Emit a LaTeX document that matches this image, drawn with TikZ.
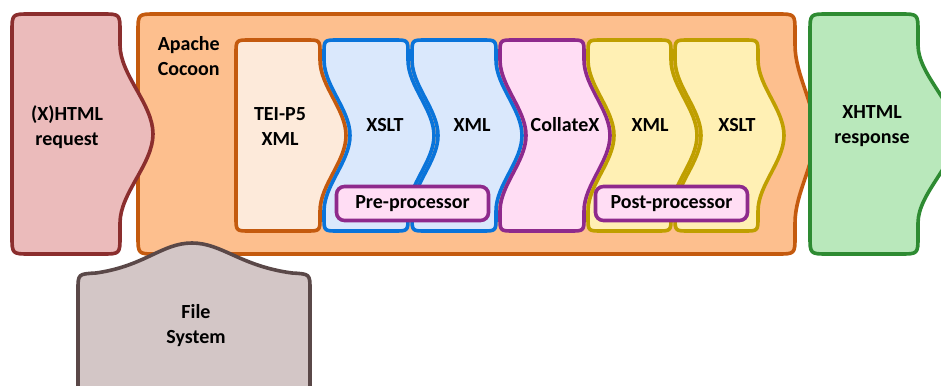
\documentclass[tikz,border=0pt]{standalone}
\usepackage{fontspec}
\setmainfont{Carlito}
\definecolor{reqF}{HTML}{EBBBBB}
\definecolor{reqD}{HTML}{8B2E2E}
\definecolor{cocF}{HTML}{FDBF8E}
\definecolor{cocD}{HTML}{C45A0E}
\definecolor{teiF}{HTML}{FDEADA}
\definecolor{bluF}{HTML}{DAE8FC}
\definecolor{bluD}{HTML}{0A74DA}
\definecolor{pnkF}{HTML}{FFDDF4}
\definecolor{pnkD}{HTML}{8E2A8C}
\definecolor{ylwF}{HTML}{FFF0B4}
\definecolor{ylwD}{HTML}{BF9F00}
\definecolor{grnF}{HTML}{B9E8BB}
\definecolor{grnD}{HTML}{2E8B32}
\definecolor{fsF}{HTML}{D3C6C6}
\definecolor{fsD}{HTML}{5A4848}
\newcommand\wshape[5]{%
\pgfmathsetmacro\ymid{(#4+#5)/2}%
\path[#1] ({#2+\shpR},#4) -- ({#3-\shpR},#4) .. controls (#3,#4) .. (#3,{#4+\shpR})
 -- (#3,{#4+\shpA}) .. controls (#3,{#4+\shpA+\shpC}) and ({#3+\shpB},{\ymid-\shpC}) .. ({#3+\shpB},\ymid)
 .. controls ({#3+\shpB},{\ymid+\shpC}) and (#3,{#5-\shpA-\shpC}) .. (#3,{#5-\shpA})
 -- (#3,{#5-\shpR}) .. controls (#3,#5) .. ({#3-\shpR},#5)
 -- ({#2+\shpR},#5) .. controls (#2,#5) .. (#2,{#5-\shpR})
 -- (#2,{#5-\shpA}) .. controls (#2,{#5-\shpA-\shpC}) and ({#2+\shpN},{\ymid+\shpC}) .. ({#2+\shpN},\ymid)
 .. controls ({#2+\shpN},{\ymid-\shpC}) and (#2,{#4+\shpA+\shpC}) .. (#2,{#4+\shpA})
 -- (#2,{#4+\shpR}) .. controls (#2,#4) .. ({#2+\shpR},#4) -- cycle;}
\begin{document}
\begin{tikzpicture}[x=1pt,y=-1pt,line width=3.6pt,line join=round,
  lbl/.style={font=\bfseries\fontsize{20}{25}\selectfont,align=center,inner sep=0pt,text=black},
  pbox/.style={lbl,draw=pnkD,fill=pnkF,rounded corners=8pt,minimum width=152pt,minimum height=34pt}]
\path[use as bounding box] (0,0) rectangle (941,385);
\clip (0,0) rectangle (941,385);
% Apache Cocoon
\def\shpB{20}\def\shpN{0}\def\shpA{31}\def\shpC{30}\def\shpR{18}
\wshape{draw=cocD,fill=cocF}{138}{795}{14}{254}
% request
\def\shpB{33}
\wshape{draw=reqD,fill=reqF}{12}{120}{14}{254}
% response
\def\shpB{38}
\wshape{draw=grnD,fill=grnF}{810}{918}{14}{254}
% file system
\path[draw=fsD,fill=fsF] (78,400) -- (78,290) .. controls (78,274) .. (96,273)
  .. controls (145,266) and (162,243) .. (192,243) .. controls (222,243) and (240,266) .. (292,273)
  .. controls (310,274) .. (310,290) -- (310,400) -- cycle;
% inner blocks
\def\shpB{26}\def\shpA{20}\def\shpC{26}\def\shpR{14}
\def\shpN{0}
\wshape{draw=cocD,fill=teiF}{236}{320}{40}{231}
\def\shpN{26}
\wshape{draw=bluD,fill=bluF}{324}{408}{40}{231}
\wshape{draw=bluD,fill=bluF}{412}{496}{40}{231}
\wshape{draw=pnkD,fill=pnkF}{500}{584}{40}{231}
\wshape{draw=ylwD,fill=ylwF}{588}{671}{40}{231}
\wshape{draw=ylwD,fill=ylwF}{675}{758}{40}{231}
% labels
\node[lbl] (req) at (67,127) {(X)HTML\\request};
\node[lbl,align=left,anchor=north west] (coc) at (156,35) {Apache\\Cocoon};
\node[lbl] (tei) at (280,127) {TEI-P5\\XML};
\node[lbl] (xslt1) at (385,125) {XSLT};
\node[lbl] (xml1) at (472,125) {XML};
\node[lbl] (colx) at (565,125) {CollateX};
\node[lbl] (xml2) at (650,125) {XML};
\node[lbl] (xslt2) at (737,125) {XSLT};
\node[lbl] (resp) at (872,126) {XHTML\\response};
\node[lbl] (fs) at (196,326) {File\\System};
\node[pbox] (pre) at (412.5,203.5) {Pre-processor};
\node[pbox] (post) at (671.5,203.5) {Post-processor};
\end{tikzpicture}
\end{document}
